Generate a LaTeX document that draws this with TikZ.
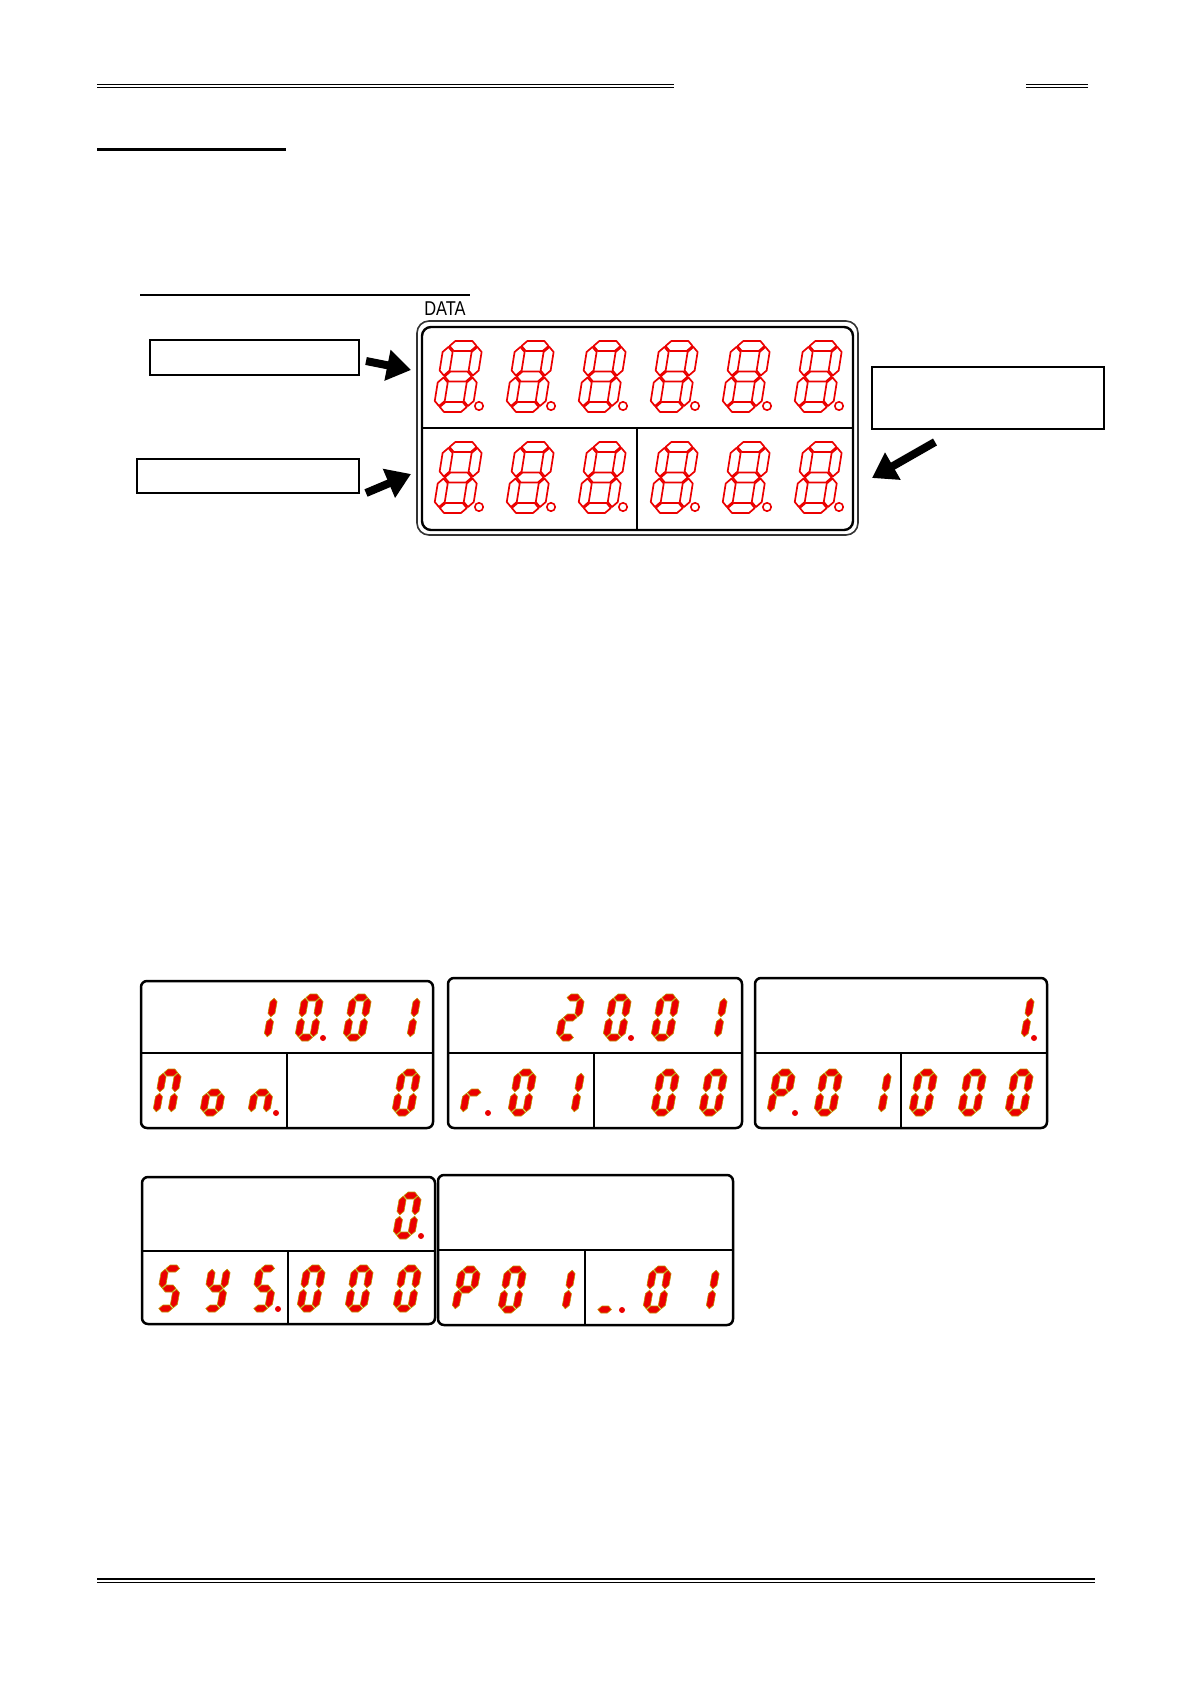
\documentclass[tikz,border=0pt]{standalone}
\usepackage{fontspec}
\setmainfont{Liberation Sans}
\usepackage{graphicx}
\usetikzlibrary{arrows.meta}

\definecolor{ledred}{RGB}{235,0,0}
\definecolor{ledrim}{RGB}{190,150,0}

% seven segment geometry (width, height, thickness, gap)
\newcommand{\segsize}[4]{\def\sW{#1}\def\sH{#2}\def\sT{#3}\def\sG{#4}}
\newcommand{\hseg}[3]{\path[seg] (#2,#1) -- (#2+\sT/2,#1+\sT/2) -- (#3-\sT/2,#1+\sT/2) -- (#3,#1) -- (#3-\sT/2,#1-\sT/2) -- (#2+\sT/2,#1-\sT/2) -- cycle;}
\newcommand{\vseg}[3]{\path[seg] (#1,#2) -- (#1+\sT/2,#2+\sT/2) -- (#1+\sT/2,#3-\sT/2) -- (#1,#3) -- (#1-\sT/2,#3-\sT/2) -- (#1-\sT/2,#2+\sT/2) -- cycle;}
\newcommand{\sega}{\hseg{\sH-\sT/2}{\sT/2+\sG}{\sW-\sT/2-\sG}}
\newcommand{\segg}{\hseg{\sH/2}{\sT/2+\sG}{\sW-\sT/2-\sG}}
\newcommand{\segd}{\hseg{\sT/2}{\sT/2+\sG}{\sW-\sT/2-\sG}}
\newcommand{\segf}{\vseg{\sT/2}{\sH/2+\sG}{\sH-\sT/2-\sG}}
\newcommand{\segb}{\vseg{\sW-\sT/2}{\sH/2+\sG}{\sH-\sT/2-\sG}}
\newcommand{\sege}{\vseg{\sT/2}{\sT/2+\sG}{\sH/2-\sG}}
\newcommand{\segc}{\vseg{\sW-\sT/2}{\sT/2+\sG}{\sH/2-\sG}}

% hollow digit of the big display: x, baseline
\newcommand{\bigdig}[2]{%
  \begin{scope}[shift={(#1,#2)}, x=0.5pt, y=0.5pt, xslant=0.16,
    seg/.style={draw=ledred, line width=0.85pt, line join=round}]
    \segsize{39}{71}{10}{1}
    \foreach \s in {a,b,c,d,e,f,g} {\csname seg\s\endcsname}
  \end{scope}
  \draw[ledred, line width=0.8pt] (#1+46,#2-6) circle[radius=2.1pt];
}
% lit character: x, baseline, segments, dot
\newcommand{\ledchar}[4]{%
  \begin{scope}[shift={(#1,#2)}, x=0.5pt, y=0.5pt, xslant=0.18,
    seg/.style={fill=ledred, draw=ledrim, line width=0.3pt}]
    \segsize{22}{47}{7}{0.7}
    \foreach \s in {#3} {\csname seg\s\endcsname}
  \end{scope}
  \ifnum#4=1 \fill[ledred] (#1+29,#2-3) circle[radius=1.5pt];\fi
}
% panel frame: x0, top, x1, divider, bottom, split
\newcommand{\panel}[6]{%
  \draw[pbox] (#1,#2) rectangle (#3,#5);
  \draw[pdiv] (#1,#4) -- (#3,#4);
  \draw[psplit] (#6,#4) -- (#6,#5);
}

\begin{document}
\begin{tikzpicture}[
  x=0.5pt, y=-0.5pt,
  hrule/.style ={line width=0.6pt},
  lbox/.style  ={draw, line width=1pt, inner sep=0pt},
  blk/.style   ={line width=4pt, -{Triangle[length=12pt, width=15pt]}},
  pbox/.style  ={line width=1.25pt, rounded corners=3pt},
  pdiv/.style  ={line width=1.1pt},
  psplit/.style={line width=0.8pt},
]
\useasboundingbox (0,0) rectangle (1190,1684);

% page rules
\draw[hrule] (97,84.5) -- (674,84.5) (97,87.5) -- (674,87.5);
\draw[hrule] (1026,84.5) -- (1088,84.5) (1026,87.5) -- (1088,87.5);
\draw[line width=1.5pt] (97,150) -- (286,150);
\draw[line width=1.25pt] (140,295) -- (414,295);
\draw[hrule] (414,295) -- (470,295);
\draw[hrule, line width=0.8pt] (97,1579) -- (1095,1579) (97,1582.5) -- (1095,1582.5);

% big display
\node[font=\fontsize{10}{10}\selectfont] (datalbl) at (445,309) {\scalebox{0.82}[1]{DATA}};
\draw[line width=0.8pt, draw=black!80, rounded corners=6pt] (417,321) rectangle (858,535);
\draw[line width=1.2pt, rounded corners=4.5pt] (422,327) rectangle (853,530);
\draw[hrule] (422,428) -- (853,428) (637,428) -- (637,530);
\foreach \i in {0,...,5} {\bigdig{433+72*\i}{412} \bigdig{433+72*\i}{513}}

% callouts
\node[lbox, minimum width=104.5pt, minimum height=17.5pt] (lbltop) at (254.5,357.5) {};
\node[lbox, minimum width=111pt, minimum height=17pt] (lblbot) at (248,476) {};
\node[lbox, minimum width=116pt, minimum height=31pt] (lblside) at (988,398) {};
\coordinate (t1) at (366,361); \coordinate (h1) at (411,370);
\coordinate (t2) at (366,493); \coordinate (h2) at (411,474);
\coordinate (t3) at (935,442); \coordinate (h3) at (872,478);
\foreach \a/\b in {t1/h1, t2/h2, t3/h3}
  \draw[blk] (\a) -- (\b);

% examples
\panel{141}{981}{433}{1053}{1128}{287}
\ledchar{248}{1041}{b,c}{0}
\ledchar{294}{1041}{a,b,c,d,e,f}{1}
\ledchar{342}{1041}{a,b,c,d,e,f}{0}
\ledchar{391}{1041}{b,c}{0}
\ledchar{152}{1116}{a,b,c,e,f}{0}
\ledchar{199}{1116}{c,d,e,g}{0}
\ledchar{247}{1116}{c,e,g}{1}
\ledchar{391}{1116}{a,b,c,d,e,f}{0}

\panel{448}{978}{742}{1053}{1128}{594}
\ledchar{555}{1041}{a,b,g,e,d}{0}
\ledchar{602}{1041}{a,b,c,d,e,f}{1}
\ledchar{650}{1041}{a,b,c,d,e,f}{0}
\ledchar{698}{1041}{b,c}{0}
\ledchar{459}{1116}{e,g}{1}
\ledchar{507}{1116}{a,b,c,d,e,f}{0}
\ledchar{555}{1116}{b,c}{0}
\ledchar{650}{1116}{a,b,c,d,e,f}{0}
\ledchar{698}{1116}{a,b,c,d,e,f}{0}

\panel{755}{978}{1047}{1053}{1128}{901}
\ledchar{1005}{1041}{b,c}{1}
\ledchar{766}{1116}{a,b,e,f,g}{1}
\ledchar{813}{1116}{a,b,c,d,e,f}{0}
\ledchar{862}{1116}{b,c}{0}
\ledchar{908}{1116}{a,b,c,d,e,f}{0}
\ledchar{957}{1116}{a,b,c,d,e,f}{0}
\ledchar{1004}{1116}{a,b,c,d,e,f}{0}

\panel{142}{1177}{435}{1251}{1324}{288}
\ledchar{392}{1239}{a,b,c,d,e,f}{1}
\ledchar{154}{1312}{a,f,g,c,d}{0}
\ledchar{201}{1312}{b,c,d,f,g}{0}
\ledchar{249}{1312}{a,f,g,c,d}{1}
\ledchar{296}{1312}{a,b,c,d,e,f}{0}
\ledchar{344}{1312}{a,b,c,d,e,f}{0}
\ledchar{392}{1312}{a,b,c,d,e,f}{0}

\panel{438}{1175}{733}{1250}{1325}{585}
\ledchar{451}{1313}{a,b,e,f,g}{0}
\ledchar{497}{1313}{a,b,c,d,e,f}{0}
\ledchar{546}{1313}{b,c}{0}
\ledchar{593}{1313}{d}{1}
\ledchar{642}{1313}{a,b,c,d,e,f}{0}
\ledchar{690}{1313}{b,c}{0}
\end{tikzpicture}
\end{document}
